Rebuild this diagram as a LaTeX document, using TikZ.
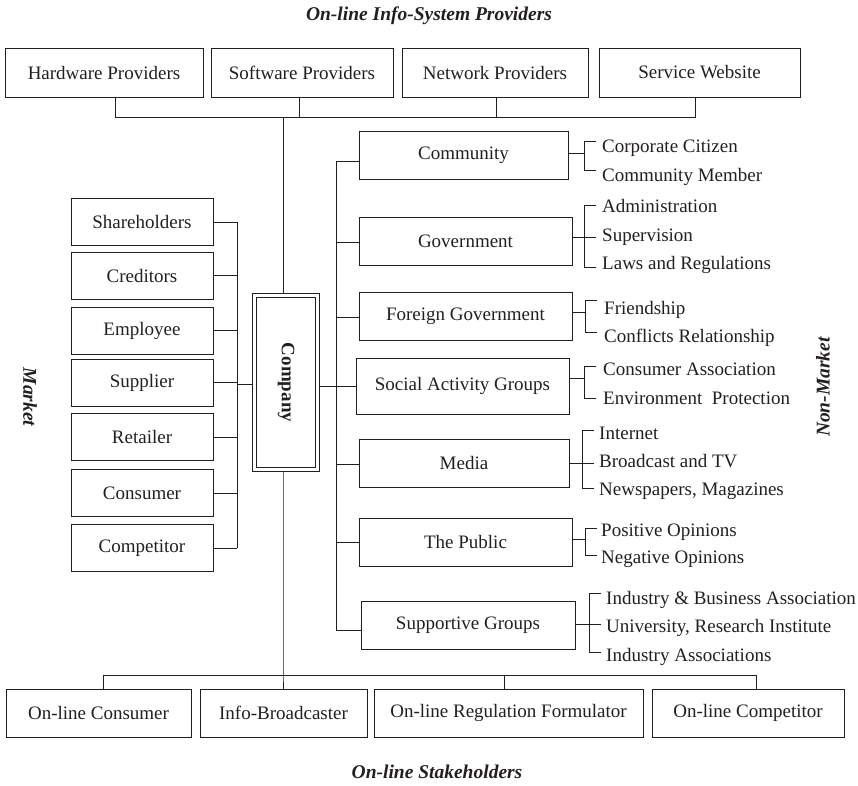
\documentclass[tikz,border=0pt]{standalone}
\usepackage{fontspec}
\setmainfont{Liberation Serif}
\definecolor{ink}{RGB}{35,31,32}
\begin{document}
\begin{tikzpicture}[x=1pt,y=-1pt,
  wire/.style={draw=ink,line width=1pt},
  box/.style={draw=ink,line width=1pt,inner sep=0pt,align=center,text=ink,
    font=\fontsize{19}{22}\selectfont},
  item/.style={anchor=base west,inner sep=0pt,text=ink,
    font=\fontsize{19}{22}\selectfont},
  heading/.style={inner sep=0pt,text=ink,
    font=\fontsize{19.5}{22}\selectfont\bfseries\itshape}]
\useasboundingbox (0,0) rectangle (858,785);

% headings
\node[heading] (tTop) at (429,16) {On-line Info-System Providers};
\node[heading] (tBot) at (437,772) {On-line Stakeholders};
\node[heading,rotate=-90] (tMk) at (30,397) {Market};
\node[heading,rotate=90] (tNm) at (823,387) {Non-Market};

% on-line info-system providers
\node[box,minimum width=198,minimum height=49] (hw) at (104,72.5) {Hardware Providers};
\node[box,minimum width=182,minimum height=49] (sw) at (302,72.5) {Software Providers};
\node[box,minimum width=186,minimum height=49] (nw) at (495,72.5) {Network Providers};
\node[box,minimum width=201,minimum height=49] (sv) at (699.5,72.5) {Service Website};

% the company (rotated: west = top, east = bottom, south = left, north = right)
\node[box,line width=1.3pt,double=white,double distance=2.2pt,outer sep=2.4pt,
  minimum width=174,minimum height=63,rotate=-90,font=\fontsize{19}{22}\selectfont\bfseries]
  (company) at (286,382.5) {Company};

% market stakeholders
\node[box,minimum width=142,minimum height=47] (sh) at (142,222) {Shareholders};
\node[box,minimum width=142,minimum height=47] (cr) at (142,275.5) {Creditors};
\node[box,minimum width=142,minimum height=47] (em) at (142,330.5) {Employee};
\node[box,minimum width=142,minimum height=47] (su) at (142,382.5) {Supplier};
\node[box,minimum width=142,minimum height=47] (re) at (142,437) {Retailer};
\node[box,minimum width=142,minimum height=47] (cs) at (142,493) {Consumer};
\node[box,minimum width=142,minimum height=47] (ct) at (142,548) {Competitor};

% non-market stakeholders
\node[box,minimum width=209,minimum height=48] (co) at (463.5,155) {Community};
\node[box,minimum width=213,minimum height=48] (gv) at (465.5,241) {Government};
\node[box,minimum width=213,minimum height=48] (fg) at (465.5,316) {Foreign Government};
\node[box,minimum width=213,minimum height=56] (so) at (462.5,386) {Social Activity Groups};
\node[box,minimum width=210,minimum height=48] (md) at (464,463) {Media};
\node[box,minimum width=213,minimum height=48] (pb) at (465.5,542) {The Public};
\node[box,minimum width=214,minimum height=48] (sp) at (468,625) {Supportive Groups};

% on-line stakeholders
\node[box,minimum width=185,minimum height=48] (oc) at (98.5,713) {On-line Consumer};
\node[box,minimum width=167,minimum height=48] (ib) at (283.5,713) {Info-Broadcaster};
\node[box,minimum width=269,minimum height=48] (rf) at (508.5,713) {On-line Regulation Formulator};
\node[box,minimum width=192,minimum height=48] (cp) at (748,713) {On-line Competitor};

% top bus
\coordinate (tb) at (283,117);
\draw[wire] ([xshift=11pt]hw.south) |- (tb);
\draw[wire] ([xshift=-4.5pt]sv.south) |- (tb);
\draw[wire] ([xshift=-3pt]sw.south) -- ([xshift=-3pt]sw.south |- tb);
\draw[wire] ([xshift=1pt]nw.south) -- ([xshift=1pt]nw.south |- tb);
\draw[wire] (tb) -- (tb |- company.west);

% bottom bus
\coordinate (bb) at (283,675);
\draw[wire] (company.east -| bb) -- (bb) -- (bb |- ib.north);
\draw[wire] ([xshift=4.5pt]oc.north) |- (bb);
\draw[wire] ([xshift=8pt]cp.north) |- (bb);
\draw[wire] ([xshift=-4.5pt]rf.north) -- ([xshift=-4.5pt]rf.north |- bb);

% left bus
\coordinate (lb) at (237,384);
\foreach \n in {sh,cr,em,su,re,cs,ct} \draw[wire] (\n.east) -- (\n.east -| lb);
\draw[wire] (sh.east -| lb) -- (ct.east -| lb);
\draw[wire] (lb) -- (lb -| company.south);

% right bus
\coordinate (rb) at (336,386);
\draw[wire] ([yshift=-6pt]co.west) -- ([yshift=-6pt]co.west -| rb);
\draw[wire] ([yshift=-1pt]gv.west) -- ([yshift=-1pt]gv.west -| rb);
\draw[wire] ([yshift=-1pt]fg.west) -- ([yshift=-1pt]fg.west -| rb);
\draw[wire] ([yshift=-1pt]md.west) -- ([yshift=-1pt]md.west -| rb);
\draw[wire] (pb.west) -- (pb.west -| rb);
\draw[wire] ([yshift=-5pt]sp.west) -- ([yshift=-5pt]sp.west -| rb);
\draw[wire] ([yshift=-6pt]co.west -| rb) -- ([yshift=-5pt]sp.west -| rb);
\draw[wire] (company.north |- so.west) -- (so.west);

% community
\coordinate (coB) at (584,153);
\draw[wire] (co.east |- coB) -- (coB);
\draw[wire] (596,141) -| (584,170) -- (596,170);
\node[item] (cc) at (602,152) {Corporate Citizen};
\node[item] (cm) at (602,181) {Community Member};

% government
\coordinate (gvB) at (596,237);
\draw[wire] (gv.east |- gvB) -- (gvB);
\draw[wire] (596,205) -| (584,267) -- (596,267);
\node[item] (ad) at (602,212) {Administration};
\node[item] (sv2) at (602,241) {Supervision};
\node[item] (lr) at (602,269) {Laws and Regulations};

% foreign government
\coordinate (fgB) at (585,312);
\draw[wire] (fg.east |- fgB) -- (fgB);
\draw[wire] (597,300) -| (585,332) -- (597,332);
\node[item] (fr) at (604,314) {Friendship};
\node[item] (cf) at (604,342) {Conflicts Relationship};

% social activity groups
\coordinate (soB) at (584,378);
\draw[wire] (so.east |- soB) -- (soB);
\draw[wire] (596,366) -| (584,398) -- (596,398);
\node[item] (ca) at (603,375) {Consumer Association};
\node[item] (ep) at (603,404) {Environment\hspace{0.5em}Protection};

% media
\coordinate (mdB) at (594,463);
\draw[wire] (md.east |- mdB) -- (mdB);
\draw[wire] (594,430) -| (582,488) -- (594,488);
\node[item] (in) at (599,439) {Internet};
\node[item] (bt) at (599,467) {Broadcast and TV};
\node[item] (nm) at (599,495) {Newspapers, Magazines};

% the public
\coordinate (pbB) at (585,539);
\draw[wire] (pb.east |- pbB) -- (pbB);
\draw[wire] (597,528) -| (585,555) -- (597,555);
\node[item] (po) at (601,536) {Positive Opinions};
\node[item] (no) at (601,563) {Negative Opinions};

% supportive groups
\coordinate (spB) at (601,624);
\draw[wire] (sp.east |- spB) -- (spB);
\draw[wire] (601,593) -| (589,652) -- (601,652);
\node[item] (iba) at (606,604) {Industry \& Business Association};
\node[item] (uri) at (606,632) {University, Research Institute};
\node[item] (ia) at (606,661) {Industry Associations};
\end{tikzpicture}
\end{document}
